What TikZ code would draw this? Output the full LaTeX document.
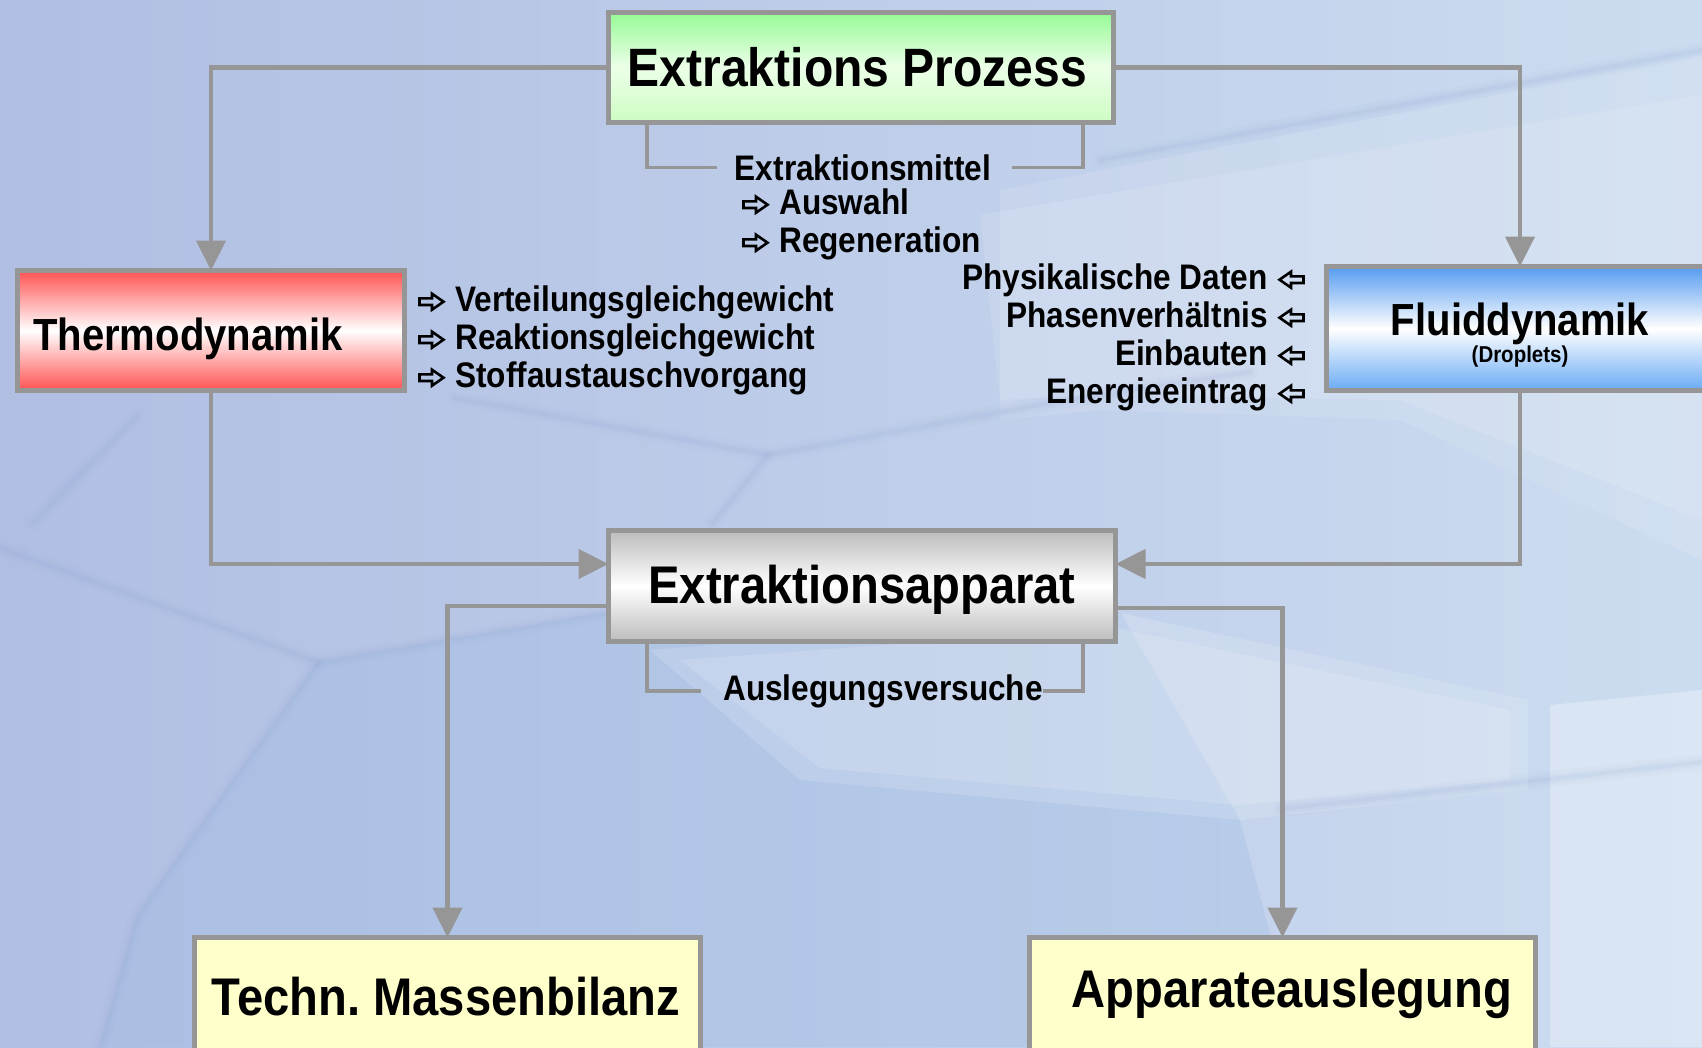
\documentclass[tikz,border=0pt]{standalone}
\usepackage{fontspec}
\usetikzlibrary{arrows.meta}
\newfontfamily\hvfont[FakeStretch=0.89]{Liberation Sans}
\definecolor{frame}{RGB}{150,150,150}
\definecolor{bgleft}{RGB}{176,190,226}
\definecolor{bgright}{RGB}{204,220,240}
\definecolor{bgdeep}{RGB}{160,190,228}
\definecolor{streak}{RGB}{140,160,208}
\definecolor{grnT}{RGB}{150,250,150}
\definecolor{grnM}{RGB}{236,255,232}
\definecolor{grnB}{RGB}{205,252,195}
\definecolor{redE}{RGB}{255,82,82}
\definecolor{bluT}{RGB}{85,155,240}
\definecolor{bluB}{RGB}{105,170,245}
\definecolor{gryE}{RGB}{188,188,188}
\definecolor{yel}{RGB}{255,255,204}
% hollow outline arrows in front of / behind list entries
\newcommand\hollowarrow[1]{\raisebox{0pt}{\tikz[x=1pt,y=1pt,line width=2.6pt,
  line join=miter,baseline=-9.3pt,xscale=#1]
  \draw[black] (0,3.3) -- (12.5,3.3) -- (12.5,8) -- (24,0) -- (12.5,-8) -- (12.5,-3.3) -- (0,-3.3) -- cycle;}}
\newcommand\rarr{\makebox[37pt][l]{\hollowarrow{1}}}
\newcommand\larr{\makebox[37pt][r]{\hollowarrow{-1}}}
% soft background streak
\newcommand\softline[1]{%
  \draw[streak,line width=16pt,opacity=.04,line join=round,line cap=round] #1;
  \draw[streak,line width=9pt,opacity=.06,line join=round,line cap=round] #1;
  \draw[streak,line width=4pt,opacity=.09,line join=round,line cap=round] #1;}
\begin{document}
\begin{tikzpicture}[x=1pt,y=-1pt,
  box/.style={draw=frame,line width=5pt,inner sep=0pt,outer sep=0pt},
  title/.style={font=\hvfont\bfseries\fontsize{#1}{#1}\selectfont,inner sep=0pt,anchor=base},
  item/.style={font=\hvfont\bfseries\fontsize{35.5}{35.5}\selectfont,inner sep=0pt},
  conn/.style={draw=frame,line width=4.5pt,-{Triangle[length=30pt,width=29pt]}},
  brk/.style={draw=frame,line width=3.5pt},
  plane/.style={fill=white,draw=none}]
% background
\shade[left color=bgleft,right color=bgright] (0,0) rectangle (1702,1047);
\useasboundingbox (0,0) rectangle (1702,1047);
\fill[bgdeep,opacity=.35] (318,662) -- (620,610) -- (1120,612) -- (1240,820)
  -- (1300,1047) -- (100,1047) -- (137,916) -- cycle;
\fill[plane,opacity=.10] (1000,190) -- (1702,55) -- (1702,560) -- (1400,420)
  -- (1100,410) -- (1000,420) -- cycle;
\fill[plane,opacity=.12] (980,215) -- (1702,95) -- (1702,520) -- (1400,400)
  -- (1100,395) -- (1000,400) -- cycle;
\fill[plane,opacity=.14] (650,650) -- (1116,612) -- (1528,700) -- (1528,790)
  -- (1240,820) -- (800,780) -- cycle;
\fill[plane,opacity=.14] (680,660) -- (1116,628) -- (1510,710) -- (1510,780)
  -- (1240,805) -- (820,768) -- cycle;
\fill[plane,opacity=.30] (1550,705) -- (1702,690) -- (1702,1047) -- (1550,1047) -- cycle;
\softline{(0,548) -- (318,662) -- (610,612)}
\softline{(318,662) -- (137,916) -- (100,1047)}
\softline{(455,398) -- (768,455) -- (1061,401) -- (1250,372)}
\softline{(768,455) -- (713,523)}
\softline{(137,416) -- (33,523)}
\softline{(1281,809) -- (1702,762)}
\softline{(1100,160) -- (1702,50)}

% boxes
\node[box,top color=grnT,bottom color=grnB,middle color=grnM,
      minimum width=505pt,minimum height=110pt] (proz) at (861,67.5) {};
\node[box,top color=redE,bottom color=redE,middle color=white,
      minimum width=387pt,minimum height=120pt] (thermo) at (211,330.5) {};
\node[box,top color=bluT,bottom color=bluB,middle color=white,
      minimum width=387pt,minimum height=124pt] (fluid) at (1520,328.5) {};
\node[box,top color=gryE,bottom color=gryE,middle color=white,
      minimum width=507pt,minimum height=111pt] (app) at (862,586) {};
\node[box,fill=yel,minimum width=506pt,minimum height=125pt] (tech) at (447.5,1000) {};
\node[box,fill=yel,minimum width=506pt,minimum height=125pt] (apl) at (1282.5,1000) {};

% box titles
\node[title=54] (prozT) at (857.5,86.8) {Extraktions Prozess};
\node[title=45,anchor=base west] (thermoT) at (33,350) {Thermodynamik};
\node[title=45] (fluidT) at (1520,335.5) {Fluiddynamik};
\node[title=23] (dropT) at (1520,362) {(Droplets)};
\node[title=53] (appT) at (862,603.5) {Extraktionsapparat};
\node[title=53] (techT) at (446,1015) {Techn.\ Massenbilanz};
\node[title=53] (aplT) at (1292,1007) {Apparateauslegung};

% annotations
\node[item,anchor=base] (mittel) at (863,180) {Extraktionsmittel};
\node[item,anchor=base west] (ausw) at (742,214) {\rarr Auswahl};
\node[item,anchor=base west] (regen) at (742,252) {\rarr Regeneration};
\node[item,anchor=base west] (v1) at (418,311) {\rarr Verteilungsgleichgewicht};
\node[item,anchor=base west] (v2) at (418,349) {\rarr Reaktionsgleichgewicht};
\node[item,anchor=base west] (v3) at (418,387) {\rarr Stoffaustauschvorgang};
\node[item,anchor=base east] (f1) at (1305,289) {Physikalische Daten\larr};
\node[item,anchor=base east] (f2) at (1305,327) {Phasenverhältnis\larr};
\node[item,anchor=base east] (f3) at (1305,365) {Einbauten\larr};
\node[item,anchor=base east] (f4) at (1305,403) {Energieeintrag\larr};
\node[item,anchor=base] (ausl) at (883,700) {Auslegungsversuche};

% brackets
\draw[brk] ([xshift=38.5pt]proz.south west) |- ([xshift=-18pt]mittel.west);
\draw[brk] ([xshift=21pt]mittel.east) -| ([xshift=-30.5pt]proz.south east);
\draw[brk] ([xshift=38.5pt]app.south west) |- ([xshift=-22pt]ausl.west);
\draw[brk] (ausl.east) -| ([xshift=-32.5pt]app.south east);

% connectors
\draw[conn] (proz.west) -| (thermo.north);
\draw[conn] (proz.east) -| (fluid.north);
\draw[conn] (thermo.south) |- ([yshift=22pt]app.west);
\draw[conn] (fluid.south) |- ([yshift=22pt]app.east);
\draw[conn] ([yshift=-20pt]app.west) -| (tech.north);
\draw[conn] ([yshift=-22pt]app.east) -| (apl.north);
\end{tikzpicture}
\end{document}
